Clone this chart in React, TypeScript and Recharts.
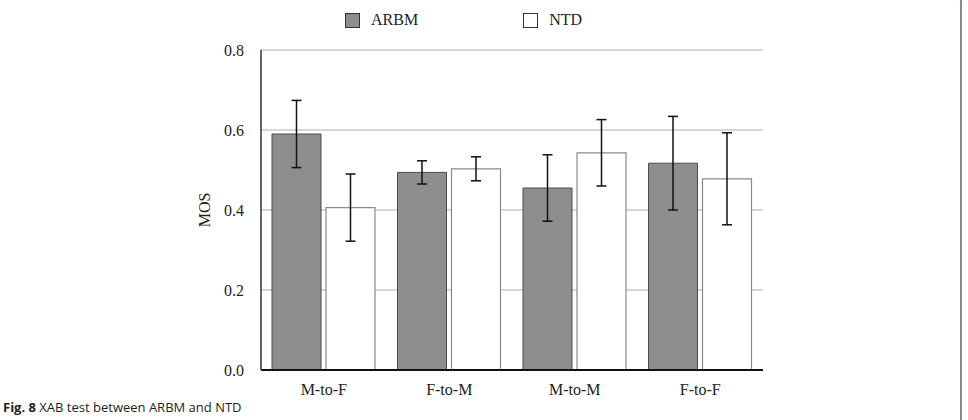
import React from 'react';
import {
  BarChart,
  Bar,
  XAxis,
  YAxis,
  CartesianGrid,
  ErrorBar,
  Legend,
} from 'recharts';

// XAB listening test results (MOS with error margins)
const categories = ['M-to-F', 'F-to-M', 'M-to-M', 'F-to-F'];
const arbmMos = [0.59, 0.494, 0.455, 0.517];
const arbmErr = [0.084, 0.029, 0.083, 0.117];
const ntdMos = [0.406, 0.503, 0.543, 0.478];
const ntdErr = [0.084, 0.03, 0.083, 0.115];
const yTicks = [0, 0.2, 0.4, 0.6, 0.8];

const data = categories.map((name, i) => ({
  name,
  ARBM: arbmMos[i],
  ARBMErr: arbmErr[i],
  NTD: ntdMos[i],
  NTDErr: ntdErr[i],
}));

const SERIF = '"Liberation Serif", "Times New Roman", serif';

const legendItems = [
  { label: 'ARBM', fill: '#8e8e8e' },
  { label: 'NTD', fill: '#ffffff' },
];

const LegendContent = () => (
  <div style={{ display: 'flex', alignItems: 'center', fontFamily: SERIF, fontSize: 16, lineHeight: '16px', color: '#222' }}>
    {legendItems.map((item, i) => (
      <div key={item.label} style={{ display: 'flex', alignItems: 'center', marginRight: i === 0 ? 105 : 0 }}>
        <span
          style={{
            display: 'inline-block',
            width: 13,
            height: 13,
            background: item.fill,
            border: '1px solid #333',
            marginRight: 11,
          }}
        />
        <span>{item.label}</span>
      </div>
    ))}
  </div>
);

const MosLabel = (props: any) => {
  const { viewBox } = props;
  const cx = 204;
  const cy = viewBox.y + viewBox.height / 2;
  return (
    <text
      x={cx}
      y={cy}
      transform={`rotate(-90, ${cx}, ${cy})`}
      textAnchor="middle"
      dominantBaseline="central"
      fontFamily={SERIF}
      fontSize={16}
      fill="#222"
    >
      MOS
    </text>
  );
};

export default function App() {
  return (
    <div style={{ position: 'absolute', left: 0, top: 0, width: 968, height: 420, background: '#fff', overflow: 'hidden' }}>
      <BarChart
        width={968}
        height={420}
        data={data}
        margin={{ top: 34, right: 205, bottom: 20, left: 201 }}
        barSize={49}
        barGap={5}
      >
        <CartesianGrid vertical={false} stroke="#c8c8c8" strokeWidth={1.5} />
        <XAxis
          dataKey="name"
          height={30}
          tickSize={0}
          tickMargin={14}
          axisLine={{ stroke: '#111', strokeWidth: 2 }}
          tick={{ fontFamily: SERIF, fontSize: 16, fill: '#222' }}
        />
        <XAxis xAxisId="top" orientation="top" dataKey="name" height={0} tick={false} tickLine={false} axisLine={{ stroke: '#333', strokeWidth: 1.5 }} />
        <YAxis
          width={60}
          domain={[0, 0.8]}
          ticks={yTicks}
          tickFormatter={(v: number) => v.toFixed(1)}
          tickSize={0}
          tickMargin={17}
          axisLine={{ stroke: '#333', strokeWidth: 1.5 }}
          tick={{ fontFamily: SERIF, fontSize: 16, fill: '#222' }}
          label={<MosLabel />}
        />
        <YAxis yAxisId="right" orientation="right" width={0} domain={[0, 0.8]} tick={false} tickLine={false} axisLine={{ stroke: '#333', strokeWidth: 1.5 }} />
        <Legend
          verticalAlign="top"
          content={<LegendContent />}
          wrapperStyle={{ top: 12, left: 345, width: 'auto', height: 16 }}
        />
        <Bar dataKey="ARBM" fill="#8e8e8e" stroke="#4a4a4a" strokeWidth={1} isAnimationActive={false}>
          <ErrorBar dataKey="ARBMErr" width={5} stroke="#111" strokeWidth={1.5} direction="y" />
        </Bar>
        <Bar dataKey="NTD" fill="#ffffff" stroke="#8a8a8a" strokeWidth={1.2} isAnimationActive={false}>
          <ErrorBar dataKey="NTDErr" width={5} stroke="#111" strokeWidth={1.5} direction="y" />
        </Bar>
      </BarChart>
      <div
        style={{
          position: 'absolute',
          left: 3,
          top: 398,
          fontFamily: '"Open Sans", "Noto Sans", sans-serif',
          fontSize: 13,
          color: '#231f20',
          whiteSpace: 'nowrap',
        }}
      >
        <b>Fig. 8</b> XAB test between ARBM and NTD
      </div>
      <div
        style={{
          position: 'absolute',
          left: 940,
          top: -10,
          width: 20,
          height: 440,
          borderRight: '2px solid #8a8a8a',
          borderTop: '2px solid #8a8a8a',
          borderTopRightRadius: 12,
        }}
      />
    </div>
  );
}
